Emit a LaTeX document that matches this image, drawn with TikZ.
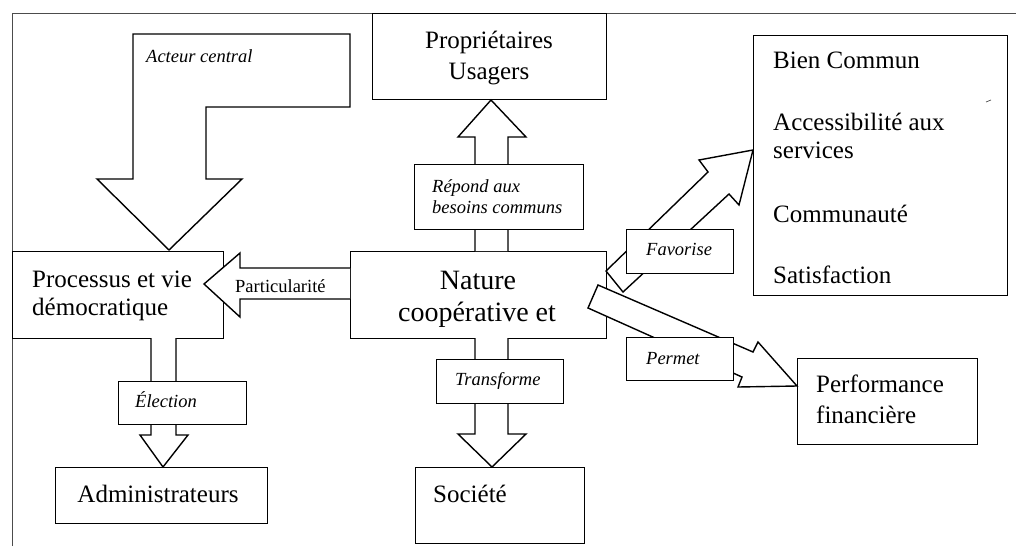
\documentclass[tikz,border=0pt]{standalone}
\usepackage{fontspec}
\setmainfont{Liberation Serif}
\tikzset{
  box/.style={draw, line width=1.4pt, fill=white, inner sep=0, anchor=north west},
  blockarrow/.style={draw, line width=1.4pt, fill=white, line join=miter},
  big/.style={font=\fontsize{25}{30}\selectfont, inner sep=0},
  huge/.style={font=\fontsize{28}{32}\selectfont, inner sep=0},
  lab/.style={font=\fontsize{18.5}{21}\selectfont\itshape, inner sep=0},
  plab/.style={font=\fontsize{18.5}{21}\selectfont, inner sep=0},
  frameline/.style={line width=0.9pt, black!70},
}
\begin{document}
\begin{tikzpicture}[x=1pt,y=-1pt]
\useasboundingbox (0,0) rectangle (1016,546);
% frame
\draw[frameline] (12,546) -- (12,13) -- (1016,13);

% main boxes
\node[box, minimum width=234pt, minimum height=86pt] (prop) at (372,13) {};
\node[box, minimum width=211pt, minimum height=87pt] (proc) at (12,251) {};
\node[box, minimum width=256pt, minimum height=87pt] (nat) at (350,251) {};
\node[box, minimum width=254pt, minimum height=260pt] (bien) at (753,35) {};
\node[box, minimum width=180pt, minimum height=86pt] (perf) at (797,358) {};
\node[box, minimum width=212pt, minimum height=56pt] (admin) at (55,467) {};
\node[box, minimum width=169pt, minimum height=76pt] (soc) at (415,467) {};

% block arrows
\draw[blockarrow] (133,34) -- (350,34) -- (350,107) -- (206,107) -- (206,179)
  -- (242,179) -- (169,250) -- (97,179) -- (133,179) -- cycle;
\draw[blockarrow] (350,268) -- (240,268) -- (240,253) -- (204,284) -- (240,317)
  -- (240,299) -- (350,299);
\draw[blockarrow] (475,251) -- (475,137) -- (458,137) -- (491,100) -- (526,137)
  -- (508,137) -- (508,251);
\draw[blockarrow] (475,338) -- (475,434) -- (458,434) -- (492,467) -- (526,434)
  -- (508,434) -- (508,338);
\draw[blockarrow] (151,338) -- (151,435) -- (140,435) -- (163,467) -- (188,435)
  -- (176,435) -- (176,338);
\draw[blockarrow] (606,271) -- (708,172) -- (699,160) -- (753,150) -- (739,205)
  -- (729,194) -- (623,292) -- cycle;
\draw[blockarrow] (598,285) -- (753,352) -- (758,342) -- (797,386) -- (738,387)
  -- (742,377) -- (588,308) -- cycle;

% label boxes
\node[box, minimum width=169pt, minimum height=65pt] (repb) at (414,164) {};
\node[box, minimum width=127pt, minimum height=44pt] (trab) at (436,359) {};
\node[box, minimum width=128pt, minimum height=43pt] (eleb) at (118,381) {};
\node[box, minimum width=107pt, minimum height=44pt] (favb) at (626,229) {};
\node[box, minimum width=107pt, minimum height=43pt] (perb) at (626,337) {};

% stray mark
\draw[line width=0.7pt, black!70] (986,102) -- (991,100);

% texts
\node[big, anchor=base] (t1) at (489,48) {Propriétaires};
\node[big, anchor=base] (t2) at (489,79) {Usagers};
\node[big, anchor=base west] (t3) at (32,287) {Processus et vie};
\node[big, anchor=base west] (t4) at (32,315) {démocratique};
\node[huge, anchor=base] (t5) at (478,289) {Nature};
\node[huge, anchor=base] (t6) at (477,321) {coopérative et};
\node[big, anchor=base west] (t7) at (773,68) {Bien Commun};
\node[big, anchor=base west] (t8) at (773,130) {Accessibilité aux};
\node[big, anchor=base west] (t9) at (773,158) {services};
\node[big, anchor=base west] (t10) at (773,222) {Communauté};
\node[big, anchor=base west] (t11) at (773,283) {Satisfaction};
\node[big, anchor=base west] (t12) at (816,392) {Performance};
\node[big, anchor=base west] (t13) at (816,423) {financière};
\node[big, anchor=base] (t14) at (158,502) {Administrateurs};
\node[big, anchor=base west] (t15) at (433,502) {Société};

\node[lab, anchor=base west] (l1) at (146,62) {Acteur central};
\node[lab, anchor=base west] (l2) at (432,192) {Répond aux};
\node[lab, anchor=base west] (l3) at (432,213) {besoins communs};
\node[lab, anchor=base west] (l4) at (646,255) {Favorise};
\node[lab, anchor=base west] (l5) at (646,364) {Permet};
\node[lab, anchor=base west] (l6) at (455,385) {Transforme};
\node[lab, anchor=base west] (l7) at (135,407) {Élection};
\node[plab, anchor=base west] (l8) at (235,292) {Particularité};
\end{tikzpicture}
\end{document}
